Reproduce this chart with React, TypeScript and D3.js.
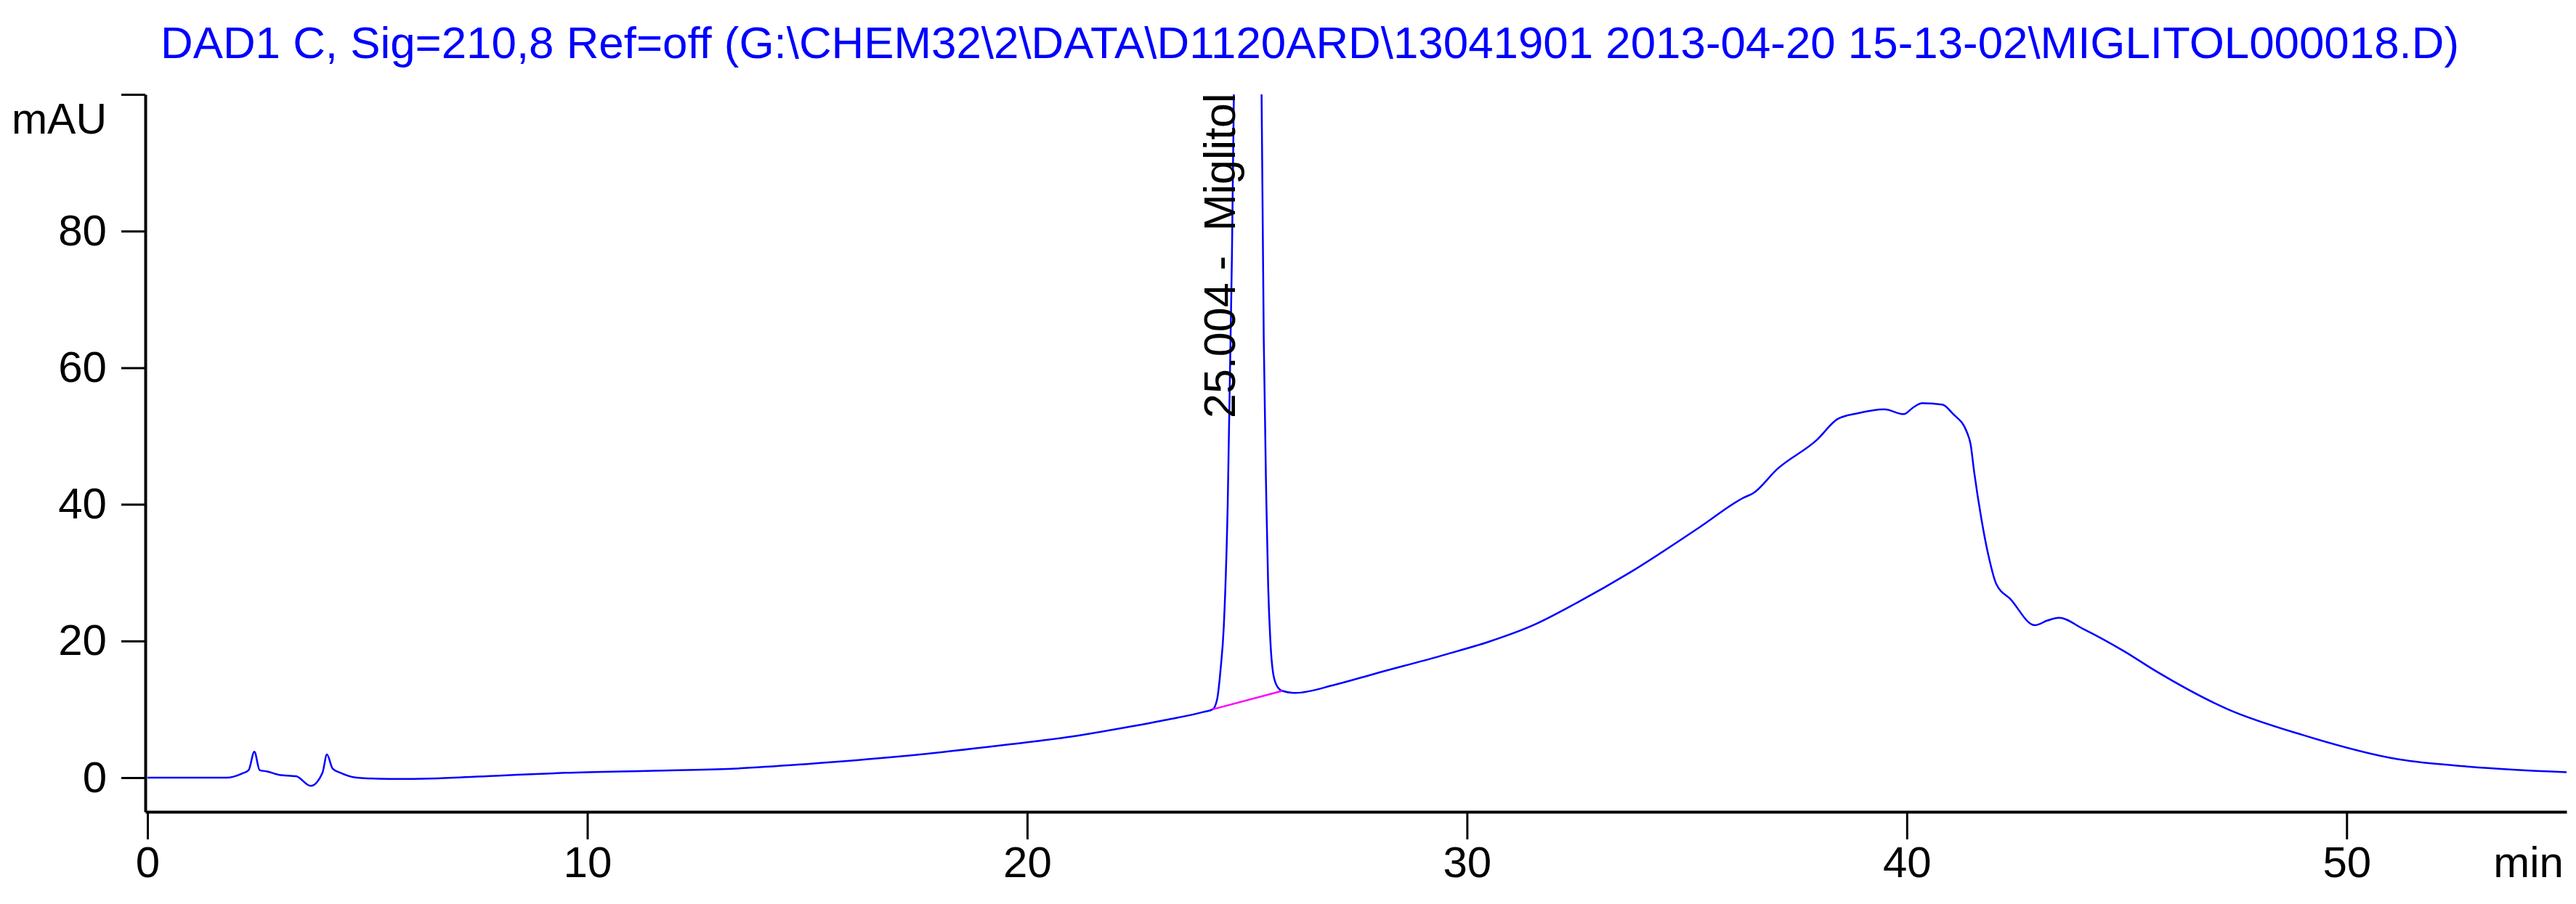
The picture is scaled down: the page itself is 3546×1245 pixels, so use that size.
import React, { useEffect, useRef } from 'react';
import * as d3 from 'd3';

const title =
  'DAD1 C, Sig=210,8 Ref=off (G:\\CHEM32\\2\\DATA\\D1120ARD\\13041901 2013-04-20 15-13-02\\MIGLITOL000018.D)';
const peakLabel = '25.004 -  Miglitol';

// retention time (min) and signal (mAU)
const traceTime = [
  0, 1.8, 2.15, 2.3, 2.43, 2.55, 2.72, 3.0, 3.38, 3.71, 3.98, 4.08, 4.21, 4.37, 4.76, 5.5, 6.6, 8, 9.5,
  11.5, 13.3, 15, 17.1, 19.65, 21, 22.2, 23.2, 24.0, 24.22, 24.32, 24.4, 24.47, 24.56, 24.64, 24.7, 25.0,
  25.33, 25.38, 25.44, 25.48, 25.53, 25.6, 25.7, 25.8, 26.1, 27, 27.9, 29.5, 30.5, 31.5, 32.5, 33.7,
  35.28, 36.3, 36.5, 37.06, 37.95, 38.43, 38.86, 39.49, 39.93, 40.15, 40.35, 40.81, 41.04, 41.37, 41.45,
  41.53, 41.7, 41.86, 42.03, 42.36, 42.91, 43.2, 43.46, 44.0, 44.94, 45.66, 47.3, 48.97, 51.16, 52.8, 55,
];
const traceMau = [
  0, 0, 0.6, 1.1, 3.8, 1.1, 0.9, 0.4, 0.2, -1.2, 0.75, 3.4, 1.3, 0.75, 0, -0.2, -0.1, 0.3, 0.7,
  1.0, 1.3, 2.0, 3.1, 4.9, 6.0, 7.3, 8.5, 9.6, 10.0, 11.5, 16, 22, 40, 70, 100, 900,
  100, 64, 40, 28, 20, 15, 13.2, 12.7, 12.4, 13.6, 15.2, 18, 19.9, 22.3, 25.6, 30.0,
  36.6, 41, 41.6, 45.2, 49.4, 52.5, 53.3, 53.9, 53.2, 54.2, 54.8, 54.6, 53.3, 50.5, 48.8,
  44.8, 37.7, 32.4, 28.4, 26.1, 22.3, 23, 23.4, 21.8, 18.5, 15.6, 10, 6.3, 2.7, 1.6, 0.8,
];

// integration baseline under the Miglitol peak
const baseTime = [24.22, 25.8];
const baseMau = [10.0, 12.7];

const xMajor = [0, 10, 20, 30, 40, 50];
const xMinor = [2, 4, 6, 8, 12, 14, 16, 18, 22, 24, 26, 28, 32, 34, 36, 38, 42, 44, 46, 48, 52, 54];
const yMajor = [0, 20, 40, 60, 80, 100];
const yMinor = [-5, 5, 10, 15, 25, 30, 35, 45, 50, 55, 65, 70, 75, 85, 90, 95];

const FONT = '"Liberation Sans", Arial, sans-serif';

const Chromatogram = () => {
  const ref = useRef<SVGSVGElement>(null);

  useEffect(() => {
    const svg = d3.select(ref.current);
    svg.selectAll('*').remove();

    const x = d3.scaleLinear().domain([-0.05, 55]).range([200, 3533]);
    const y = d3.scaleLinear().domain([-5, 100]).range([1118, 130]);

    svg
      .append('text')
      .attr('x', 221)
      .attr('y', 80)
      .attr('fill', '#0000ff')
      .attr('font-family', FONT)
      .attr('font-size', 61)
      .attr('textLength', 3164)
      .attr('lengthAdjust', 'spacingAndGlyphs')
      .text(title);

    // clip so the main peak runs off the top like the original
    svg
      .append('clipPath')
      .attr('id', 'plot-clip')
      .append('rect')
      .attr('x', 200)
      .attr('y', 130)
      .attr('width', 3533 - 200)
      .attr('height', 1118 - 130);

    const trace = traceTime.map((t, i) => [t, traceMau[i]] as [number, number]);
    const line = d3
      .line<[number, number]>()
      .x((d) => x(d[0]))
      .y((d) => y(d[1]))
      .curve(d3.curveMonotoneX);

    const plot = svg.append('g').attr('clip-path', 'url(#plot-clip)');
    plot
      .append('path')
      .attr('d', line(trace))
      .attr('fill', 'none')
      .attr('stroke', '#0000ff')
      .attr('stroke-width', 2.5)
      .attr('stroke-linejoin', 'round');

    const base = baseTime.map((t, i) => [t, baseMau[i]] as [number, number]);
    plot
      .append('path')
      .attr('d', d3.line<[number, number]>().x((d) => x(d[0])).y((d) => y(d[1]))(base))
      .attr('fill', 'none')
      .attr('stroke', '#ff00ff')
      .attr('stroke-width', 2.5);

    // x axis
    const gx = svg.append('g').attr('transform', 'translate(0,1118)');
    gx.call(
      d3.axisBottom(x).tickValues(xMinor).tickSize(20).tickSizeOuter(0).tickFormat(() => '')
    );
    gx.call(
      d3
        .axisBottom(x)
        .tickValues(xMajor)
        .tickSize(38)
        .tickSizeOuter(0)
        .tickPadding(9)
        .tickFormat(d3.format('d'))
    );

    // y axis
    const gy = svg.append('g').attr('transform', 'translate(200,0)');
    gy.call(
      d3.axisLeft(y).tickValues(yMinor).tickSize(15).tickSizeOuter(0).tickFormat(() => '')
    );
    gy.call(
      d3
        .axisLeft(y)
        .tickValues(yMajor)
        .tickSize(33)
        .tickSizeOuter(0)
        .tickPadding(20)
        .tickFormat((d) => (d === 100 ? '' : String(d)))
    );

    svg.selectAll('.domain').attr('stroke', '#000').attr('stroke-width', 4);
    svg.selectAll('.tick line').attr('stroke', '#000').attr('stroke-width', 3);
    svg
      .selectAll('.tick text')
      .attr('fill', '#000')
      .attr('font-family', FONT)
      .attr('font-size', 60);

    svg
      .append('text')
      .attr('x', 147)
      .attr('y', 184)
      .attr('text-anchor', 'end')
      .attr('font-family', FONT)
      .attr('font-size', 59)
      .text('mAU');

    svg
      .append('text')
      .attr('x', 3529)
      .attr('y', 1208)
      .attr('text-anchor', 'end')
      .attr('font-family', FONT)
      .attr('font-size', 60)
      .text('min');

    svg
      .append('text')
      .attr('x', 1700)
      .attr('y', 576)
      .attr('transform', 'rotate(-90,1700,576)')
      .attr('font-family', FONT)
      .attr('font-size', 61)
      .style('white-space', 'pre')
      .text(peakLabel);
  }, []);

  return (
    <svg
      ref={ref}
      width={3546}
      height={1245}
      style={{ position: 'absolute', left: 0, top: 0, background: '#fff' }}
    />
  );
};

export default function App() {
  return <Chromatogram />;
}
